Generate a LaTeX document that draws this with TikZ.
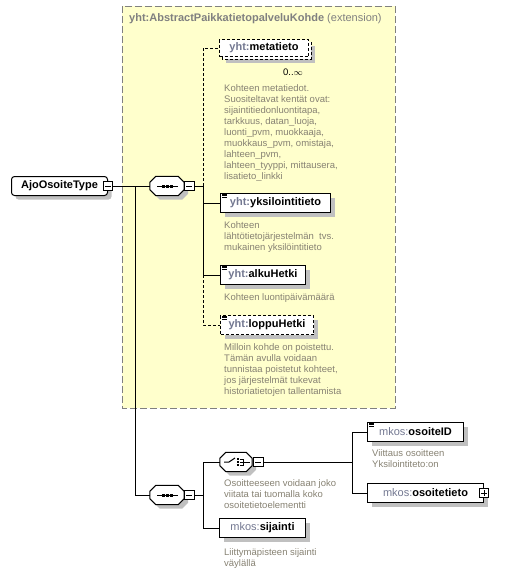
\documentclass[tikz,border=0pt]{standalone}
\usepackage{fontspec}
\setmainfont{Liberation Sans}
\usetikzlibrary{shadows,calc}

\definecolor{extfill}{RGB}{255,255,204}
\definecolor{extline}{RGB}{128,128,128}
\definecolor{shadowgray}{RGB}{192,192,192}
\definecolor{prefixgray}{RGB}{115,120,145}
\definecolor{docgray}{RGB}{135,130,115}

\newcommand\elfont{\fontsize{11}{13}\selectfont}
\newcommand\docfont{\fontsize{9.5}{11}\selectfont}
\newcommand\qn[2]{\textcolor{prefixgray}{\textbf{#1:}}\textbf{#2}}
\newcommand\qm[2]{\textcolor{prefixgray}{#1:}\textbf{#2}}
% octagon round a named node, shifted by (#2,#3)
\newcommand\octpath[3]{($(#1.north west)+(6+#2,#3)$) -- ($(#1.north east)+(-6+#2,#3)$) -- ($(#1.north east)+(#2,6+#3)$) -- ($(#1.south east)+(#2,-6+#3)$) -- ($(#1.south east)+(-6+#2,#3)$) -- ($(#1.south west)+(6+#2,#3)$) -- ($(#1.south west)+(#2,-6+#3)$) -- ($(#1.north west)+(#2,6+#3)$) -- cycle}

\tikzset{
  shadowed/.style={drop shadow={shadow xshift=4pt, shadow yshift=-4pt, fill=shadowgray, opacity=1}},
  box/.style={draw, fill=white, line width=1pt, anchor=west, minimum height=19pt, inner sep=0pt, font=\elfont},
  elem/.style={box, shadowed},
  optelem/.style={elem, dash pattern=on 3pt off 2pt},
  model/.style={minimum width=34pt, minimum height=19pt, inner sep=0pt},
  pm/.style={draw, fill=white, line width=0.8pt, minimum size=9.5pt, inner sep=0pt},
  doc/.style={anchor=north west, inner sep=0pt, align=left, font=\docfont, text=docgray},
  conn/.style={line width=1pt},
  optconn/.style={conn, dash pattern=on 3pt off 2pt},
  extbox/.style={draw=extline, fill=extfill, line width=1pt, dash pattern=on 7pt off 3pt}
}

\begin{document}
\begin{tikzpicture}[x=1pt,y=-1pt]
\useasboundingbox (0,0) rectangle (511,573);

% extension
\draw[extbox] (122,6) rectangle (395,408);
\node[anchor=west, inner sep=0pt, font=\elfont, text=extline] (extTitle) at (129,19) {\textbf{yht:AbstractPaikkatietopalveluKohde} (extension)};

% complex type
\node[elem, rounded corners=3pt, minimum width=96pt] (ajo) at (11,186) {\textbf{AjoOsoiteType}\hspace{8pt}};
\node[pm] (ajoM) at (ajo.east) {};

% sequences and choice
\node[model] (seqA) at (167,186) {};
\node[model] (seqB) at (167,495) {};
\node[model, minimum width=32pt] (choice) at (236,462) {};
\foreach \s in {seqA,seqB,choice} {
  \fill[shadowgray] \octpath{\s}{4}{4};
  \draw[line width=1pt, fill=white] \octpath{\s}{0}{0};
}
\node[pm, anchor=west] (seqAM) at (seqA.east) {};
\node[pm, anchor=west] (seqBM) at (seqB.east) {};
\node[pm, anchor=west] (choiceM) at ([xshift=1pt]choice.east) {};

% elements of the extension
\draw[dash pattern=on 3pt off 2pt, line width=1pt, fill=white, shadowed] (222,42) rectangle (311,59);
\node[box, dash pattern=on 3pt off 2pt, minimum width=89pt, minimum height=17pt] (meta) at (219,48) {\qn{yht}{metatieto}};
\node[font=\docfont, inner sep=0pt] (metaMult) at (293,72) {0..$\infty$};
\node[elem, minimum width=110pt] (yks) at (220,203) {\qn{yht}{yksilointitieto}};
\node[elem, minimum width=85pt] (alku) at (220,275) {\qn{yht}{alkuHetki}};
\node[optelem, minimum width=93pt] (loppu) at (220,325) {\qn{yht}{loppuHetki}};

% elements of the second sequence
\node[elem, minimum width=96pt] (osid) at (367,432) {\qm{mkos}{osoiteID}};
\node[elem, minimum width=116pt] (osoitetieto) at (367,493) {\qm{mkos}{osoitetieto}\hspace{5pt}};
\node[pm] (osoitetietoP) at (osoitetieto.east) {};
\node[elem, minimum width=86pt] (sijainti) at (219,528) {\qm{mkos}{sijainti}};

% documentation
\node[doc] (metaDoc) at (224,84) {Kohteen metatiedot.\\Suositeltavat kentät ovat:\\sijaintitiedonluontitapa,\\tarkkuus, datan\_luoja,\\luonti\_pvm, muokkaaja,\\muokkaus\_pvm, omistaja,\\lahteen\_pvm,\\lahteen\_tyyppi, mittausera,\\lisatieto\_linkki};
\node[doc] (yksDoc) at (224,221) {Kohteen\\lähtötietojärjestelmän\ \ tvs.\\mukainen yksilöintitieto};
\node[doc] (alkuDoc) at (224,293) {Kohteen luontipäivämäärä};
\node[doc] (loppuDoc) at (224,343) {Milloin kohde on poistettu.\\Tämän avulla voidaan\\tunnistaa poistetut kohteet,\\jos järjestelmät tukevat\\historiatietojen tallentamista};
\node[doc] (choiceDoc) at (224,479) {Osoitteeseen voidaan joko\\viitata tai tuomalla koko\\osoitetietoelementti};
\node[doc] (osidDoc) at (372,449) {Viittaus osoitteen\\Yksilointiteto:on};
\node[doc] (sijaintiDoc) at (224,548) {Liittymäpisteen sijainti\\väylällä};

% connectors
\coordinate (forkA) at (135,186);
\coordinate (forkB) at (203,186);
\coordinate (forkC) at (203,495);
\coordinate (forkD) at (352,462);
\draw[conn] (ajoM.east) -- (seqA.west);
\draw[conn] (forkA) |- (seqB.west);
\draw[conn] (seqAM.east) -- (forkB);
\draw[optconn] (forkB) |- (meta.west);
\draw[conn] (forkB) |- (yks.west);
\draw[conn] (forkB) |- (alku.west);
\draw[optconn] (alku.west -| forkB) |- (loppu.west);
\draw[conn] (seqBM.east) -- (forkC);
\draw[conn] (forkC) |- (choice.west);
\draw[conn] (forkC) |- (sijainti.west);
\draw[conn] (choiceM.east) -- (forkD);
\draw[conn] (forkD) |- (osid.west);
\draw[conn] (forkD) |- (osoitetieto.west);

% icons
\foreach \m in {ajoM,seqAM,seqBM,choiceM,osoitetietoP}
  \draw[line width=0.8pt] ($(\m.center)+(-3,0)$) -- +(6,0);
\draw[line width=0.8pt] ($(osoitetietoP.center)+(0,-3)$) -- +(0,6);
\foreach \s in {seqA,seqB} {
  \draw[line width=1pt] ($(\s.center)+(-10,0)$) -- +(21,0);
  \foreach \d in {-4,0,4}
    \fill ($(\s.center)+(\d,0)$) +(-1.5,-1.5) rectangle +(1.5,1.5);
}
\draw[line width=1pt] ($(choice.center)+(-12,0)$) -- +(5,0) -- +(11,-4);
\foreach \d in {-3,0,3}
  \fill ($(choice.center)+(2,\d)$) +(-1,-1) rectangle +(1,1);
\draw[line width=1pt] ($(choice.center)+(4,-3)$) -- +(3,0) -- +(3,6) -- +(0,6);
\draw[line width=1pt] ($(choice.center)+(4,0)$) -- +(10,0);
\foreach \n in {yks,alku,loppu,osid}
  \foreach \k in {1.2,2.8,4.4}
    \draw[line width=0.7pt] ($(\n.north west)+(2,\k)$) -- +(5,0);
\end{tikzpicture}
\end{document}
